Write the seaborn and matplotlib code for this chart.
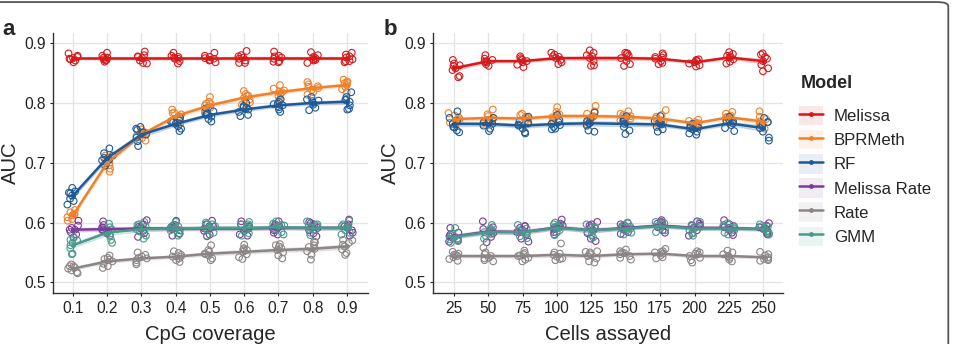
import numpy as np
import pandas as pd
import matplotlib
matplotlib.use("Agg")
import matplotlib.pyplot as plt
from matplotlib.lines import Line2D
from matplotlib.patches import Patch, FancyBboxPatch
import seaborn as sns

# ------------------------------------------------------------------
# data (AUC values x1000, 8 runs per setting)
# ------------------------------------------------------------------
models = ["Melissa", "BPRMeth", "RF", "Melissa Rate", "Rate", "GMM"]
colors = ["#d7191c", "#f0812a", "#1f5a96", "#7b3c98", "#8c8585", "#4a9a8c"]

coverage = [0.1, 0.2, 0.3, 0.4, 0.5, 0.6, 0.7, 0.8, 0.9]
cells = [25, 50, 75, 100, 125, 150, 175, 200, 225, 250]

auc_cov_melissa = [
    [868, 871, 873, 875, 877, 879, 883, 874], [869, 872, 873, 876, 876, 879, 884, 871],
    [867, 871, 875, 877, 878, 880, 886, 866], [866, 870, 874, 876, 877, 879, 884, 874],
    [868, 872, 874, 875, 877, 879, 884, 871], [867, 871, 874, 876, 878, 880, 887, 867],
    [868, 870, 874, 876, 878, 879, 886, 869], [867, 872, 873, 875, 877, 880, 885, 871],
    [868, 870, 873, 876, 878, 881, 884, 870]]
auc_cov_bprmeth = [
    [603, 606, 609, 612, 614, 617, 621, 614], [685, 690, 696, 700, 703, 706, 712, 708],
    [737, 741, 745, 747, 749, 751, 756, 750], [765, 770, 774, 778, 781, 784, 789, 783],
    [783, 788, 792, 796, 799, 802, 810, 798], [797, 801, 806, 809, 812, 815, 820, 812],
    [806, 811, 815, 818, 821, 824, 830, 819], [814, 818, 822, 825, 828, 831, 835, 827],
    [818, 823, 827, 830, 833, 836, 839, 834]]
auc_cov_rf = [
    [630, 636, 640, 645, 649, 652, 658, 650], [695, 700, 704, 708, 712, 716, 724, 705],
    [728, 736, 742, 747, 751, 755, 760, 757], [753, 757, 761, 765, 768, 771, 776, 769],
    [769, 773, 777, 780, 783, 786, 791, 781], [778, 780, 785, 789, 792, 795, 800, 793],
    [785, 789, 793, 796, 799, 802, 806, 798], [788, 792, 797, 800, 803, 806, 810, 804],
    [789, 790, 796, 802, 806, 810, 818, 805]]
auc_cov_melissa_rate = [
    [575, 580, 584, 588, 591, 595, 603, 588], [578, 582, 586, 589, 592, 596, 602, 587],
    [576, 582, 586, 590, 593, 597, 604, 592], [578, 581, 587, 590, 593, 596, 603, 592],
    [577, 580, 586, 590, 594, 597, 603, 593], [578, 580, 586, 590, 593, 597, 602, 594],
    [580, 583, 587, 591, 594, 597, 602, 594], [577, 582, 587, 591, 594, 597, 601, 599],
    [578, 583, 587, 591, 594, 597, 605, 593]]
auc_cov_rate = [
    [515, 517, 520, 523, 525, 527, 530, 527], [524, 527, 531, 535, 538, 541, 545, 539],
    [530, 533, 537, 540, 543, 546, 550, 541], [534, 537, 540, 543, 546, 549, 552, 543],
    [537, 540, 545, 548, 551, 554, 562, 547], [539, 542, 547, 551, 554, 557, 563, 555],
    [540, 545, 550, 554, 557, 560, 564, 562], [538, 546, 552, 556, 559, 562, 568, 567],
    [546, 549, 555, 560, 563, 566, 570, 571]]
auc_cov_gmm = [
    [547, 548, 557, 562, 566, 570, 575, 571], [566, 571, 578, 583, 588, 592, 598, 588],
    [573, 578, 585, 589, 593, 597, 601, 596], [578, 582, 587, 590, 593, 596, 601, 593],
    [578, 583, 588, 591, 594, 597, 600, 597], [578, 582, 588, 591, 594, 597, 601, 597],
    [580, 584, 589, 592, 595, 598, 602, 596], [579, 583, 588, 591, 594, 597, 602, 594],
    [580, 583, 587, 591, 594, 597, 603, 593]]

auc_cells_melissa = [
    [843, 845, 855, 858, 862, 866, 872, 863], [862, 865, 868, 870, 872, 874, 880, 869],
    [860, 864, 868, 870, 872, 875, 878, 873], [865, 868, 872, 875, 878, 881, 884, 877],
    [862, 863, 870, 875, 880, 884, 888, 878], [862, 865, 870, 875, 879, 882, 884, 883],
    [865, 867, 870, 874, 877, 880, 883, 876], [861, 863, 866, 868, 870, 871, 873, 872],
    [866, 869, 873, 876, 879, 882, 885, 878], [853, 858, 864, 870, 874, 877, 881, 883]]
auc_cells_bprmeth = [
    [764, 767, 770, 773, 776, 779, 783, 772], [765, 768, 772, 775, 778, 781, 789, 772],
    [765, 768, 771, 774, 777, 780, 782, 775], [767, 770, 774, 778, 781, 785, 793, 776],
    [764, 768, 774, 778, 782, 786, 795, 777], [768, 771, 774, 777, 780, 782, 786, 778],
    [765, 768, 771, 774, 777, 780, 788, 769], [760, 762, 764, 766, 768, 770, 772, 766],
    [767, 770, 773, 776, 779, 782, 785, 776], [757, 761, 765, 769, 773, 777, 786, 764]]
auc_cells_rf = [
    [751, 754, 760, 765, 770, 775, 786, 759], [753, 757, 762, 765, 768, 771, 775, 769],
    [749, 751, 757, 762, 766, 770, 777, 764], [757, 760, 763, 765, 768, 771, 780, 756],
    [752, 754, 762, 766, 770, 774, 784, 766], [748, 754, 760, 765, 769, 772, 778, 774],
    [752, 756, 760, 764, 767, 770, 778, 765], [747, 749, 752, 756, 759, 762, 765, 758],
    [753, 758, 763, 766, 769, 772, 777, 770], [737, 742, 752, 758, 764, 768, 775, 768]]
auc_cells_melissa_rate = [
    [568, 570, 574, 577, 580, 583, 591, 573], [567, 576, 582, 585, 589, 592, 602, 587],
    [568, 573, 580, 584, 588, 591, 594, 594], [580, 584, 589, 592, 595, 598, 605, 593],
    [569, 573, 582, 587, 592, 595, 597, 601], [581, 584, 588, 591, 594, 597, 599, 594],
    [583, 587, 592, 595, 598, 600, 601, 604], [578, 582, 587, 591, 595, 598, 602, 595],
    [579, 583, 588, 591, 594, 597, 604, 592], [580, 582, 586, 589, 592, 595, 599, 589]]
auc_cells_rate = [
    [536, 539, 542, 544, 546, 548, 551, 546], [535, 537, 541, 544, 547, 550, 558, 540],
    [535, 538, 541, 544, 547, 549, 553, 545], [537, 540, 543, 546, 548, 550, 565, 539],
    [533, 535, 540, 544, 547, 550, 552, 551], [538, 541, 544, 547, 550, 552, 555, 549],
    [540, 542, 545, 548, 550, 552, 556, 551], [533, 537, 541, 544, 547, 550, 552, 548],
    [535, 538, 541, 544, 547, 550, 553, 544], [536, 537, 539, 542, 545, 547, 551, 539]]
auc_cells_gmm = [
    [566, 569, 573, 576, 579, 582, 591, 572], [573, 577, 581, 584, 587, 590, 596, 584],
    [574, 577, 581, 584, 587, 590, 596, 583], [579, 583, 587, 591, 594, 597, 600, 597],
    [575, 579, 584, 587, 590, 593, 597, 591], [580, 583, 587, 590, 593, 596, 600, 591],
    [584, 587, 591, 594, 597, 599, 601, 599], [578, 582, 587, 590, 593, 596, 601, 593],
    [580, 583, 587, 590, 593, 596, 599, 592], [580, 582, 585, 589, 592, 594, 597, 593]]

cov_data = [auc_cov_melissa, auc_cov_bprmeth, auc_cov_rf,
            auc_cov_melissa_rate, auc_cov_rate, auc_cov_gmm]
cells_data = [auc_cells_melissa, auc_cells_bprmeth, auc_cells_rf,
              auc_cells_melissa_rate, auc_cells_rate, auc_cells_gmm]


def to_long(xs, per_model, xname):
    rows = []
    for m, groups in zip(models, per_model):
        for x, vals in zip(xs, groups):
            for v in vals:
                rows.append({xname: x, "AUC": v / 1000, "Model": m})
    return pd.DataFrame(rows)


df_cov = to_long(coverage, cov_data, "coverage")
df_cells = to_long(cells, cells_data, "cells")

# ------------------------------------------------------------------
# plot
# ------------------------------------------------------------------
sns.set_theme(style="white")
plt.rcParams["font.family"] = ["Liberation Sans", "DejaVu Sans"]
np.random.seed(3)

pal = dict(zip(models, colors))
fig = plt.figure(figsize=(9.54, 3.44), dpi=100)
ax_a = fig.add_axes([0.0556, 0.148, 0.330, 0.756])
ax_b = fig.add_axes([0.454, 0.148, 0.367, 0.756])

panels = [
    (ax_a, df_cov, "coverage", "CpG coverage", coverage, (0.042, 0.961),
     ["0.1", "0.2", "0.3", "0.4", "0.5", "0.6", "0.7", "0.8", "0.9"]),
    (ax_b, df_cells, "cells", "Cells assayed", cells, (9.7, 264.6),
     [str(c) for c in cells]),
]

for ax, df, xcol, xlabel, xt, xlim, xtl in panels:
    sns.stripplot(data=df, x=xcol, y="AUC", hue="Model", hue_order=models,
                  palette=pal, native_scale=True, jitter=0.17, size=4.8,
                  ax=ax, legend=False, zorder=2)
    # open circles
    for coll in ax.collections:
        fc = coll.get_facecolors()
        coll.set_edgecolors(fc)
        coll.set_facecolors("none")
        coll.set_linewidth(0.8)
    sns.lineplot(data=df, x=xcol, y="AUC", hue="Model", hue_order=models,
                 palette=pal, errorbar=("se", 1), marker="o", markersize=3.5,
                 markeredgewidth=0, linewidth=1.8, err_kws={"alpha": 0.18},
                 ax=ax, legend=False, zorder=3)
    ax.set_xlim(*xlim)
    ax.set_ylim(0.482, 0.917)
    ax.set_xticks(xt)
    ax.set_xticklabels(xtl)
    ax.set_yticks([0.5, 0.6, 0.7, 0.8, 0.9])
    ax.set_yticklabels(["0.5", "0.6", "0.7", "0.8", "0.9"])
    ax.grid(True, color="#e3e3e3", linewidth=0.9)
    ax.set_axisbelow(True)
    for s in ["top", "right"]:
        ax.spines[s].set_visible(False)
    for s in ["left", "bottom"]:
        ax.spines[s].set_color("#333333")
        ax.spines[s].set_linewidth(1.0)
    ax.tick_params(axis="both", labelsize=11.2, colors="#222222", length=2.5,
                   width=0.8, direction="out", bottom=True, left=True, pad=3)
    ax.set_xlabel(xlabel, fontsize=14.6, labelpad=7)
    ax.set_ylabel("AUC", fontsize=14.6, labelpad=3)

fig.text(0.003, 0.915, "a", fontsize=16, fontweight="bold", va="center")
fig.text(0.402, 0.915, "b", fontsize=16, fontweight="bold", va="center")

# legend with tinted key boxes, title placed separately
handles = []
for c in colors:
    bg = Patch(facecolor=c, alpha=0.1, edgecolor="none")
    ln = Line2D([], [], color=c, linewidth=1.8, marker="o", markersize=3.5,
                markeredgewidth=0)
    handles.append((bg, ln))
fig.text(0.839, 0.756, "Model", fontsize=13, fontweight="bold", va="center")
leg = fig.legend(handles, models, loc="upper left",
                 bbox_to_anchor=(0.838, 0.692), frameon=False, fontsize=12.1,
                 handlelength=1.4, handleheight=1.4,
                 handletextpad=0.65, labelspacing=0.28, borderaxespad=0,
                 borderpad=0)

# rounded figure frame
frame = FancyBboxPatch((-0.03, -0.1), 1.024, 1.094,
                       boxstyle="round,pad=0,rounding_size=0.012",
                       transform=fig.transFigure, facecolor="none",
                       edgecolor="#555555", linewidth=1.3, clip_on=False)
fig.patches.append(frame)

fig.savefig("out.png", dpi=100)
